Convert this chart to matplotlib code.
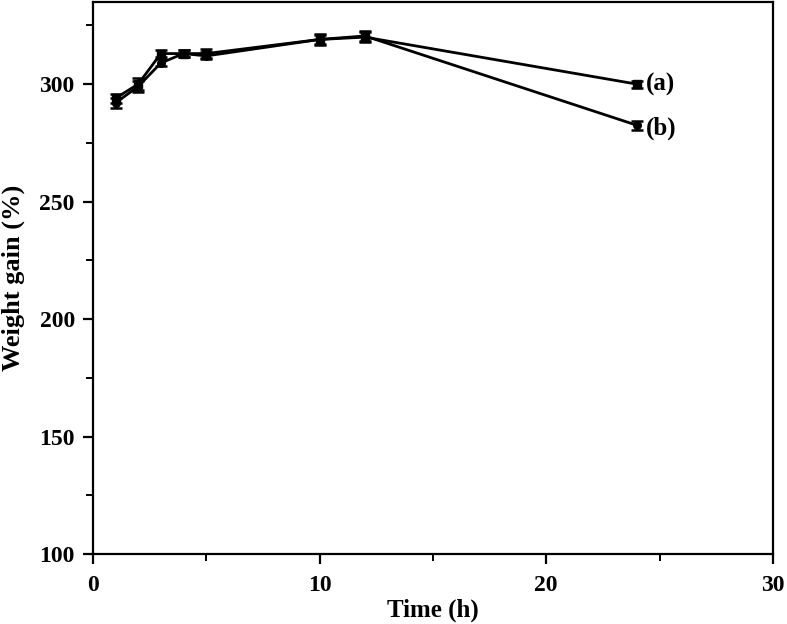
import numpy as np
import matplotlib
matplotlib.use("Agg")
import matplotlib.pyplot as plt
from matplotlib.ticker import MultipleLocator

plt.rcParams['font.family'] = ['Liberation Serif', 'DejaVu Serif']
plt.rcParams['font.weight'] = 'bold'

# data
time_h = [1, 2, 3, 4, 5, 10, 12, 24]
gain_a = [294, 300, 313, 313, 313, 319, 320, 300]
err_a = [2.0, 2.5, 1.5, 1.5, 2.0, 2.5, 2.0, 1.5]
gain_b = [292, 299, 309, 313, 312, 319, 320.5, 282.5]
err_b = [2.0, 2.5, 1.5, 1.5, 1.5, 2.0, 2.0, 2.0]
series_labels = ['(a)', '(b)']

fig = plt.figure(figsize=(7.87, 6.24), dpi=100)
ax = fig.add_axes([0.118, 0.112, 0.864, 0.885])

ax.errorbar(time_h, gain_a, yerr=err_a, color='black', marker='s', markersize=5.5,
            linewidth=2, elinewidth=1.8, capsize=4, capthick=1.8)
ax.errorbar(time_h, gain_b, yerr=err_b, color='black', marker='o', markersize=5.5,
            linewidth=2, elinewidth=1.8, capsize=4, capthick=1.8)

ax.text(time_h[-1] + 0.4, gain_a[-1], series_labels[0], fontsize=18, fontweight='bold',
        va='center', ha='left')
ax.text(time_h[-1] + 0.4, gain_b[-1] - 1.5, series_labels[1], fontsize=18, fontweight='bold',
        va='center', ha='left')

ax.set_xlim(0, 30)
ax.set_ylim(100, 335)
ax.xaxis.set_major_locator(MultipleLocator(10))
ax.xaxis.set_minor_locator(MultipleLocator(5))
ax.yaxis.set_major_locator(MultipleLocator(50))
ax.yaxis.set_minor_locator(MultipleLocator(25))

for s in ax.spines.values():
    s.set_linewidth(1.6)
ax.tick_params(which='major', direction='out', length=7, width=1.6, labelsize=17)
ax.tick_params(axis='x', which='major', pad=8)
ax.tick_params(axis='y', which='major', pad=6)
ax.tick_params(which='minor', direction='out', length=5, width=1.4)
for lab in ax.get_xticklabels() + ax.get_yticklabels():
    lab.set_fontweight('bold')

ax.set_xlabel('Time (h)', fontsize=18, fontweight='bold', labelpad=2)
ax.set_ylabel('Weight gain (%)', fontsize=19, fontweight='bold', labelpad=10)

plt.savefig('out.png', dpi=100)
